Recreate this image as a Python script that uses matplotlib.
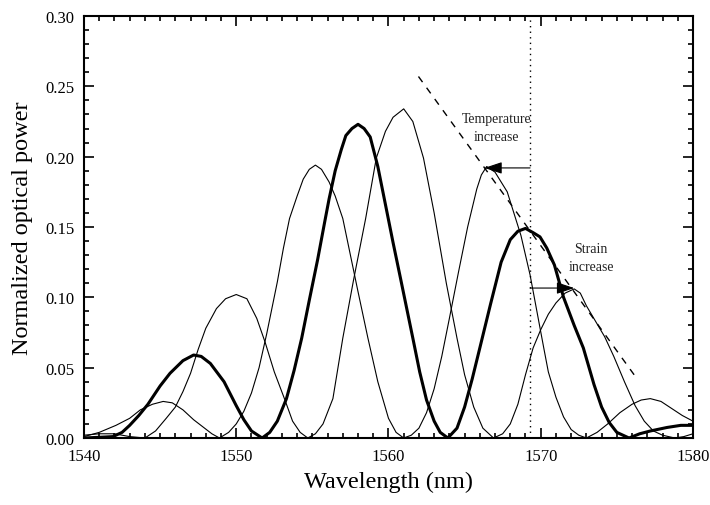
import matplotlib
matplotlib.use("Agg")
import matplotlib.pyplot as plt
from matplotlib.ticker import MultipleLocator, FormatStrFormatter

# reference spectrum (thick) and the two shifted spectra (thin)
reference_pts = [
    (1540.0, 0.000), (1541.0, 0.0005), (1541.9, 0.001), (1542.5, 0.004), (1543.0, 0.009),
    (1543.6, 0.016), (1544.2, 0.024), (1545.0, 0.037), (1545.65, 0.046), (1546.5, 0.055),
    (1547.2, 0.059), (1547.7, 0.058), (1548.3, 0.053), (1549.2, 0.040), (1550.0, 0.023),
    (1550.5, 0.013), (1551.0, 0.005), (1551.7, 0.000), (1552.2, 0.004), (1552.7, 0.012),
    (1553.3, 0.028), (1553.8, 0.048), (1554.3, 0.071), (1554.8, 0.098), (1555.35, 0.127),
    (1555.8, 0.153), (1556.1, 0.170), (1556.5, 0.190), (1556.9, 0.205), (1557.2, 0.215),
    (1557.6, 0.220), (1558.0, 0.223), (1558.4, 0.220), (1558.8, 0.214), (1559.3, 0.193),
    (1559.8, 0.166), (1560.3, 0.139), (1560.8, 0.113), (1561.2, 0.092), (1561.6, 0.071),
    (1562.05, 0.047), (1562.5, 0.027), (1563.0, 0.012), (1563.4, 0.004), (1563.9, 0.000),
    (1564.5, 0.007), (1565.0, 0.022), (1565.5, 0.042), (1566.0, 0.064), (1566.7, 0.095),
    (1567.4, 0.125), (1568.0, 0.141), (1568.5, 0.147), (1569.0, 0.149), (1569.5, 0.146),
    (1569.95, 0.143), (1570.4, 0.135), (1570.9, 0.123), (1571.5, 0.100), (1572.2, 0.080),
    (1572.8, 0.064), (1573.5, 0.038), (1574.0, 0.022), (1574.5, 0.011), (1575.0, 0.004),
    (1575.8, 0.000), (1576.5, 0.003), (1577.2, 0.005), (1578.3, 0.0075), (1579.2, 0.009),
    (1580.0, 0.009),
]

temperature_pts = [
    (1540.0, 0.001), (1541.0, 0.004), (1542.1, 0.009), (1543.0, 0.014), (1543.7, 0.020),
    (1544.5, 0.024), (1545.2, 0.026), (1545.8, 0.025), (1546.5, 0.020), (1547.2, 0.013),
    (1547.8, 0.008), (1548.4, 0.003), (1548.9, 0.000), (1549.5, 0.004), (1550.0, 0.010),
    (1550.5, 0.019), (1551.0, 0.032), (1551.5, 0.050), (1552.0, 0.074), (1552.7, 0.111),
    (1553.1, 0.135), (1553.5, 0.156), (1554.0, 0.172), (1554.4, 0.184), (1554.8, 0.191),
    (1555.2, 0.194), (1555.6, 0.191), (1556.1, 0.182), (1556.5, 0.172), (1557.0, 0.156),
    (1557.5, 0.130), (1558.0, 0.104), (1558.65, 0.071), (1559.3, 0.040), (1560.0, 0.014),
    (1560.5, 0.004), (1561.0, 0.000), (1561.5, 0.002), (1562.0, 0.007), (1562.5, 0.018),
    (1563.0, 0.035), (1563.5, 0.058), (1564.0, 0.085), (1564.6, 0.118), (1565.2, 0.150),
    (1565.8, 0.177), (1566.1, 0.187), (1566.45, 0.193), (1567.0, 0.189), (1567.8, 0.175),
    (1568.7, 0.144), (1569.3, 0.116), (1570.2, 0.064), (1570.5, 0.047), (1571.0, 0.029),
    (1571.5, 0.015), (1572.0, 0.006), (1572.5, 0.002), (1573.0, 0.000), (1573.7, 0.004),
    (1574.4, 0.010), (1575.2, 0.018), (1576.0, 0.024), (1576.6, 0.027), (1577.2, 0.028),
    (1577.9, 0.026), (1578.6, 0.021), (1579.3, 0.016), (1580.0, 0.012),
]

strain_pts = [
    (1540.0, 0.002), (1541.0, 0.003), (1542.0, 0.003), (1543.0, 0.001), (1544.0, 0.000),
    (1544.7, 0.005), (1545.4, 0.014), (1546.0, 0.022), (1546.5, 0.033), (1547.0, 0.046),
    (1547.5, 0.063), (1548.0, 0.078), (1548.7, 0.092), (1549.3, 0.099), (1550.0, 0.102),
    (1550.7, 0.099), (1551.35, 0.085), (1551.9, 0.068), (1552.5, 0.047), (1553.2, 0.027),
    (1553.7, 0.012), (1554.2, 0.004), (1554.7, 0.000), (1555.2, 0.003), (1555.7, 0.010),
    (1556.35, 0.028), (1557.0, 0.071), (1557.7, 0.112), (1558.5, 0.156), (1559.2, 0.199),
    (1559.8, 0.218), (1560.3, 0.228), (1561.0, 0.234), (1561.6, 0.225), (1562.3, 0.199),
    (1563.0, 0.160), (1563.8, 0.110), (1564.5, 0.071), (1565.0, 0.045), (1565.6, 0.022),
    (1566.2, 0.007), (1566.9, 0.000), (1567.5, 0.003), (1568.0, 0.010), (1568.5, 0.024),
    (1569.0, 0.045), (1569.5, 0.064), (1570.0, 0.077), (1570.5, 0.088), (1571.0, 0.096),
    (1571.6, 0.103), (1572.2, 0.106), (1572.6, 0.103), (1573.0, 0.094), (1573.6, 0.083),
    (1574.2, 0.072), (1574.8, 0.058), (1575.5, 0.040), (1576.2, 0.023), (1576.8, 0.012),
    (1577.4, 0.005), (1578.0, 0.002), (1578.8, 0.000), (1579.4, 0.001), (1580.0, 0.003),
]

# trend of the peak tops (dashed) and the reference wavelength (dotted)
trend_x = [1561.97, 1576.4]
trend_y = [0.257, 0.041]
ref_wavelength = 1569.3

plt.rcParams["font.family"] = ["Liberation Serif", "DejaVu Serif"]

fig = plt.figure(figsize=(7.1, 5.06), dpi=100)
ax = fig.add_axes([0.1183, 0.1324, 0.8577, 0.834])

for pts, lw in [(temperature_pts, 0.8), (strain_pts, 0.8), (reference_pts, 2.2)]:
    x, y = zip(*pts)
    ax.plot(x, y, color="black", lw=lw, solid_joinstyle="round")

ax.plot(trend_x, trend_y, color="black", lw=1.0, dashes=(5, 5))
ax.axvline(ref_wavelength, color="black", lw=1.0, dashes=(1, 3))

# shift arrows
arrow = dict(arrowstyle="-|>,head_length=0.9,head_width=0.3", color="black",
             lw=0.8, shrinkA=0, shrinkB=0, mutation_scale=12)
ax.annotate("", xy=(1566.3, 0.192), xytext=(ref_wavelength, 0.192), arrowprops=arrow)
ax.annotate("", xy=(1572.2, 0.1066), xytext=(ref_wavelength, 0.1066), arrowprops=arrow)

ax.text(1567.1, 0.2205, "Temperature\nincrease", ha="center", va="center",
        fontsize=10, color="#222222", linespacing=1.5)
ax.text(1573.3, 0.128, "Strain\nincrease", ha="center", va="center",
        fontsize=10, color="#222222", linespacing=1.5)

ax.set_xlim(1540, 1580)
ax.set_ylim(0, 0.30)
ax.xaxis.set_major_locator(MultipleLocator(10))
ax.xaxis.set_minor_locator(MultipleLocator(1))
ax.yaxis.set_major_locator(MultipleLocator(0.05))
ax.yaxis.set_minor_locator(MultipleLocator(0.01))
ax.yaxis.set_major_formatter(FormatStrFormatter("%.2f"))

ax.tick_params(which="both", direction="in", top=True, right=True, width=1.2,
               labelsize=12)
ax.tick_params(which="major", length=7, pad=7)
ax.tick_params(which="minor", length=3.5)
for s in ax.spines.values():
    s.set_linewidth(1.5)

ax.set_xlabel("Wavelength (nm)", fontsize=17.5, labelpad=5)
ax.set_ylabel("Normalized optical power", fontsize=17.5, labelpad=9)

fig.savefig("out.png", dpi=100)
